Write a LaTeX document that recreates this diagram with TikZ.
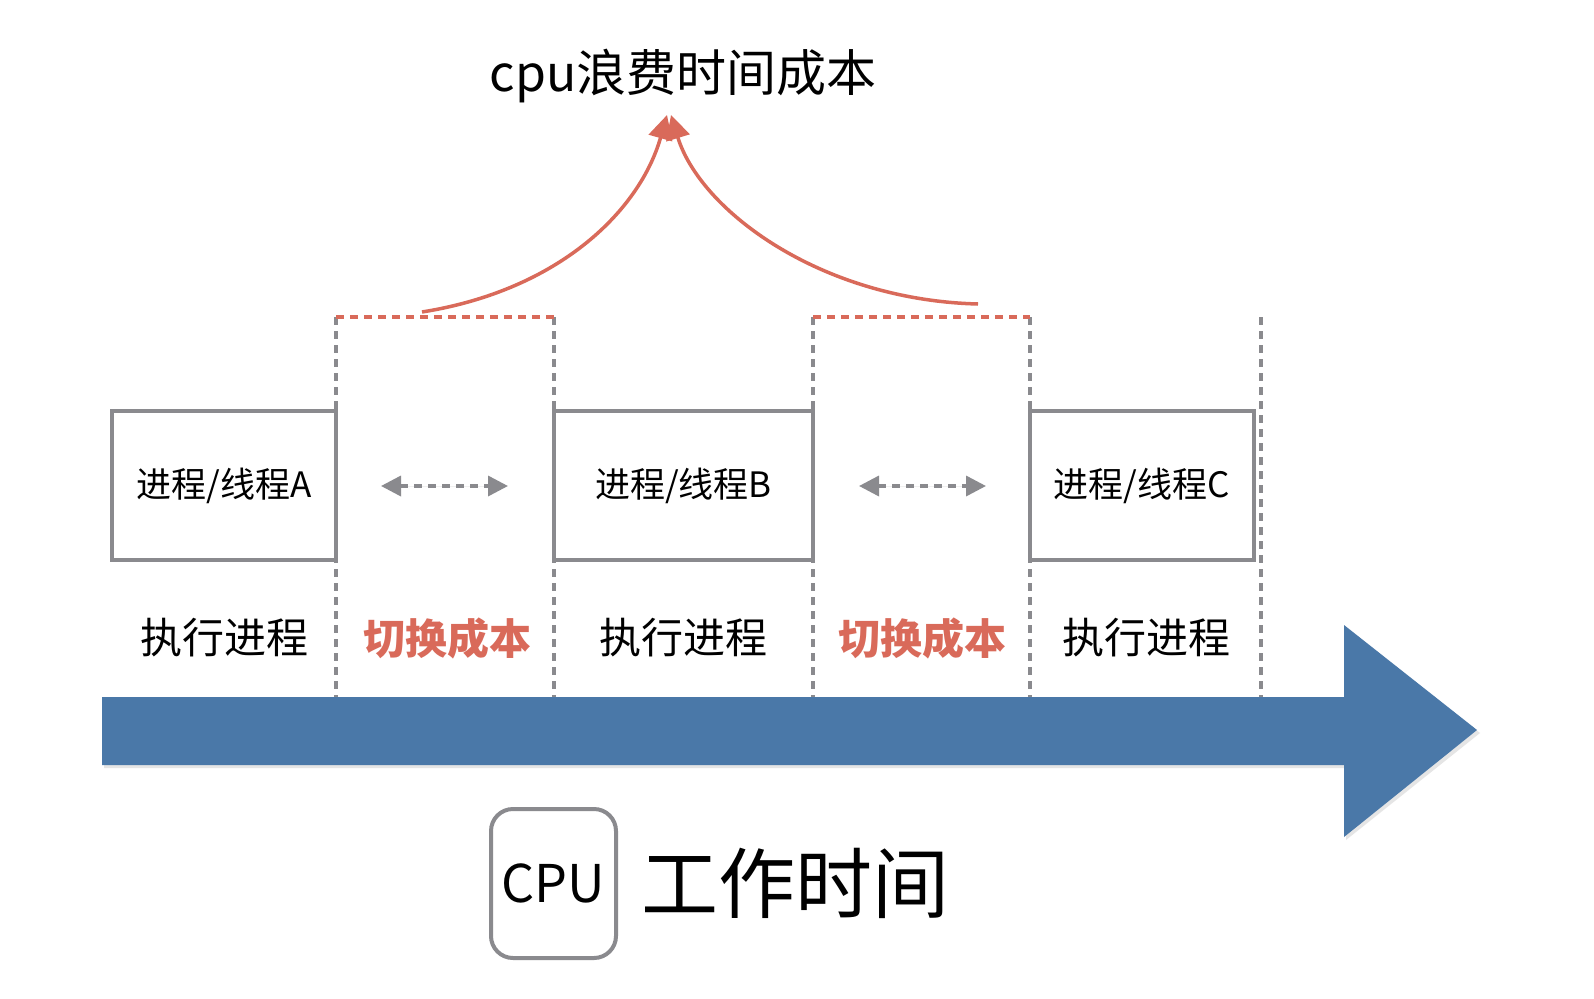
\documentclass[tikz,border=0pt]{standalone}
\usepackage{fontspec}
\setmainfont{Noto Sans CJK SC}
\usetikzlibrary{arrows.meta}
\definecolor{cred}{RGB}{217,106,90}
\definecolor{cgray}{RGB}{138,138,142}
\definecolor{cblue}{RGB}{74,120,168}
\begin{document}
\begin{tikzpicture}[x=1pt,y=-1pt,
  procbox/.style={draw=cgray,line width=4pt,inner sep=0pt,minimum height=149pt,font=\fontsize{35}{40}\selectfont},
  vdash/.style={draw=cgray,line width=3.5pt,dash pattern=on 8pt off 6pt},
  rdash/.style={draw=cred,line width=3.5pt,dash pattern=on 8pt off 6pt},
  gswap/.style={draw=cgray,fill=cgray,line width=3.5pt,dash pattern=on 8pt off 6pt,{Triangle[length=20pt,width=20pt,sep=0pt]}-{Triangle[length=20pt,width=20pt]}},
  runlbl/.style={font=\fontsize{42}{48}\selectfont},
  swlbl/.style={font=\fontsize{42}{48}\selectfont\bfseries,text=cred},
  redcurve/.style={draw=cred,line width=3.5pt,-{Triangle[length=24pt,width=24pt]}}]
\useasboundingbox (0,0) rectangle (1594,998);
\fill[white] (0,0) rectangle (1594,998);
% vertical dashed guides
\foreach \x/\n in {336/a,554/b,813/c,1030/d,1261/e}{
  \coordinate (t\n) at (\x,317);
  \coordinate (b\n) at (\x,699);
  \draw[vdash] (t\n) -- (b\n);
}
% red dashed tops
\draw[rdash] (ta) -- (tb);
\draw[rdash] (tc) -- (td);
% boxes
\node[procbox,minimum width=224pt] (pA) at (224,485.5) {进程/线程A};
\node[procbox,minimum width=259pt] (pB) at (683.5,485.5) {进程/线程B};
\node[procbox,minimum width=224pt] (pC) at (1142,485.5) {进程/线程C};
% swap arrows
\coordinate (s1l) at (381,486); \coordinate (s1r) at (508,486);
\coordinate (s2l) at (859,486); \coordinate (s2r) at (986,486);
\draw[gswap] (s1l) -- (s1r);
\draw[gswap] (s2l) -- (s2r);
% labels
\node[runlbl] (l1) at (224,638) {执行进程};
\node[swlbl] (l2) at (447,638) {切换成本};
\node[runlbl] (l3) at (683,638) {执行进程};
\node[swlbl] (l4) at (922,638) {切换成本};
\node[runlbl] (l5) at (1146,638) {执行进程};
% title and curves
\node[font=\fontsize{50}{60}\selectfont] (title) at (683,76) {cpu浪费时间成本};
\coordinate (cl) at (422,312);
\coordinate (cr) at (978,304);
\coordinate (tipl) at (667,115);
\coordinate (tipr) at (671,115);
\draw[redcurve] (cl) .. controls (560,290) and (640,210) .. (tipl);
\draw[redcurve] (cr) .. controls (820,300) and (700,210) .. (tipr);
% blue time arrow
\fill[black!25,opacity=0.4] (104,700) -- (1346,700) -- (1346,628) -- (1480,733) -- (1346,840) -- (1346,768) -- (104,768) -- cycle;
\fill[cblue] (102,697) -- (1344,697) -- (1344,625) -- (1477,730) -- (1344,837) -- (1344,765) -- (102,765) -- cycle;
% CPU legend
\node[draw=cgray,line width=4pt,rounded corners=22pt,minimum width=125pt,minimum height=149pt,inner sep=0pt,font=\fontsize{52}{60}\selectfont] (cpu) at (553.5,883.5) {CPU};
\node[font=\fontsize{77}{84}\selectfont,anchor=west] (work) at ([xshift=20pt]cpu.east) {工作时间};
\end{tikzpicture}
\end{document}
